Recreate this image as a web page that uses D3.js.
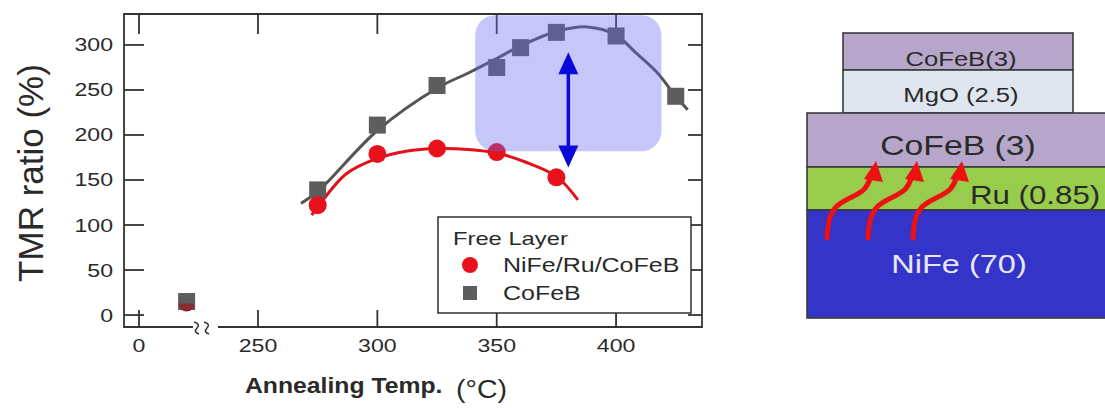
<!DOCTYPE html>
<html><head><meta charset="utf-8">
<script src="https://cdn.jsdelivr.net/npm/d3@7"></script>
<style>body{margin:0;background:#fff}svg{display:block}text{font-family:"Liberation Sans",Arial,sans-serif}</style>
</head><body>
<svg id="c" width="1105" height="408"></svg>
<script>
// ---- data ----
const rtTemp = 20;
const cofebTemps = [rtTemp, 275, 300, 325, 350, 360, 375, 400, 425];
const cofebTMR   = [15, 139, 211, 255, 275, 297, 314, 310, 243];
const nifeTemps  = [rtTemp, 275, 300, 325, 350, 375];
const nifeTMR    = [11, 122, 179, 185, 181, 153];
const cofebFitT  = [268, 275, 300, 325, 339, 350, 360, 375, 388, 400, 408, 417, 425, 430];
const cofebFitV  = [124, 137, 205, 252, 270, 285, 299, 315, 320, 311, 292, 270, 243, 228];
const nifeFitT   = [272.5, 275, 287, 300, 312, 325, 338, 350, 362, 375, 384];
const nifeFitV   = [111, 120, 157, 174, 182, 185, 184, 180, 170, 154, 128];
const xTicks = [0, 250, 300, 350, 400];
const yTicks = [0, 50, 100, 150, 200, 250, 300];
const legendTitle = "Free Layer";
const seriesNames = ["NiFe/Ru/CoFeB", "CoFeB"];
const highlightT = [341, 419];      // shaded region (temperature)
const highlightV = [182, 333];      // shaded region (TMR)
const arrowT = 380, arrowV = [292, 164];
const layerNames = ["CoFeB(3)", "MgO (2.5)", "CoFeB (3)", "Ru (0.85)", "NiFe (70)"];

// ---- scales ----
const svg = d3.select("#c");
const x = d3.scaleLinear().domain([0, 50, 250, 436]).range([139, 258, 258, 702]);
const y = d3.scaleLinear().domain([-13.3, 334.4]).range([327, 14]);
const L = 124, R = 702, T = 14, B = 327;
const SX = 1.25;
const ink = "#2a2a2a";

function txt(g, px, py, s, o) {
  o = o || {};
  return g.append("text")
    .attr("transform", `translate(${px},${py}) scale(${o.sx || SX},1)`)
    .attr("text-anchor", o.anchor || "start")
    .attr("font-size", o.fs || 18)
    .attr("font-weight", o.fw || "normal")
    .attr("fill", o.fill || ink)
    .text(s);
}

const g = svg.append("g");

// frame
const brk0 = 193, brk1 = 218;
g.append("path").attr("fill", "none").attr("stroke", "#333").attr("stroke-width", 1.8)
  .attr("d", `M${brk0},${B}H${L}V${T}H${R}V${B}H${brk1}`);

// ticks
const tk = g.append("g").attr("stroke", "#333").attr("stroke-width", 1.8);
yTicks.forEach(v => {
  tk.append("line").attr("x1", L).attr("x2", L + 20).attr("y1", y(v)).attr("y2", y(v));
  tk.append("line").attr("x1", R - 14).attr("x2", R).attr("y1", y(v)).attr("y2", y(v));
  txt(g, 113, y(v) + 6.5, String(v), {anchor: "end", fs: 18.5});
});
xTicks.forEach(v => {
  tk.append("line").attr("x1", x(v)).attr("x2", x(v)).attr("y1", B).attr("y2", B - 17);
  tk.append("line").attr("x1", x(v)).attr("x2", x(v)).attr("y1", T).attr("y2", T + 20);
  txt(g, x(v), 352, String(v), {anchor: "middle", fs: 18.5});
});
// axis break marks
[197, 207].forEach(bx => {
  g.append("path").attr("fill", "none").attr("stroke", "#333").attr("stroke-width", 1.6)
    .attr("d", `M${bx - 3},${B - 5} Q${bx + 4},${B - 3} ${bx},${B + 1} T${bx + 2},${B + 7}`);
});

// axis titles
g.append("text").attr("transform", `translate(43,173) rotate(-90)`)
  .attr("text-anchor", "middle").attr("font-size", 35).attr("fill", ink).text("TMR ratio (%)");
txt(g, 245, 393, "Annealing Temp.", {fs: 22.5, fw: "bold", sx: 1.1});
txt(g, 456, 398, "(°C)", {fs: 26, sx: 1.1});

// fit curves
const line = d3.line().x(d => x(d[0])).y(d => y(d[1])).curve(d3.curveCatmullRom);
g.append("path").attr("d", line(cofebFitT.map((t, i) => [t, cofebFitV[i]])))
  .attr("fill", "none").attr("stroke", "#555").attr("stroke-width", 3);
g.append("path").attr("d", line(nifeFitT.map((t, i) => [t, nifeFitV[i]])))
  .attr("fill", "none").attr("stroke", "#e3101a").attr("stroke-width", 3);

// points
const sq = 17;
cofebTemps.forEach((t, i) => {
  g.append("rect").attr("x", x(t) - sq / 2).attr("y", y(cofebTMR[i]) - sq / 2)
    .attr("width", sq).attr("height", sq).attr("fill", "#5d5d5d");
});
nifeTemps.forEach((t, i) => {
  if (i === 0) return; // hidden behind the square at RT
  g.append("circle").attr("cx", x(t)).attr("cy", y(nifeTMR[i])).attr("r", 9).attr("fill", "#e8121c");
});
// RT point: red circle partly under square
g.append("path").attr("fill", "#8a2a35")
  .attr("d", `M${x(rtTemp) - 8},${y(cofebTMR[0]) + 2} A8,8 0 0 0 ${x(rtTemp) + 8},${y(cofebTMR[0]) + 2} Z`);

// highlight box
g.append("rect").attr("x", x(highlightT[0])).attr("y", y(highlightV[1]))
  .attr("width", x(highlightT[1]) - x(highlightT[0])).attr("height", y(highlightV[0]) - y(highlightV[1]))
  .attr("rx", 20).attr("fill", "rgb(100,100,240)").attr("fill-opacity", 0.37);

// double arrow
const ax = x(arrowT), ay0 = y(arrowV[0]), ay1 = y(arrowV[1]);
g.append("line").attr("x1", ax).attr("x2", ax).attr("y1", ay0 + 15).attr("y2", ay1 - 15)
  .attr("stroke", "#0a0ad8").attr("stroke-width", 3.5);
g.append("path").attr("fill", "#0a0ad8")
  .attr("d", `M${ax},${ay0} L${ax - 10},${ay0 + 22} L${ax + 10},${ay0 + 22} Z M${ax},${ay1} L${ax - 10},${ay1 - 22} L${ax + 10},${ay1 - 22} Z`);

// legend
const lg = g.append("g");
lg.append("rect").attr("x", 438).attr("y", 217).attr("width", 253).attr("height", 96)
  .attr("fill", "#fff").attr("stroke", "#222").attr("stroke-width", 1.4);
txt(lg, 453, 245, legendTitle, {fs: 19});
lg.append("circle").attr("cx", 470).attr("cy", 265).attr("r", 8).attr("fill", "#e8121c");
txt(lg, 503, 272, seriesNames[0], {fs: 20});
lg.append("rect").attr("x", 463).attr("y", 286).attr("width", 14).attr("height", 14).attr("fill", "#5d5d5d");
txt(lg, 503, 300, seriesNames[1], {fs: 20});

// ---- stack diagram ----
const d = svg.append("g");
const layers = [
  {x0: 843, x1: 1073, y0: 33, y1: 70, fill: "#b6a6ca"},
  {x0: 843, x1: 1073, y0: 70, y1: 113, fill: "#dfe6f0"},
  {x0: 807, x1: 1112, y0: 113, y1: 167, fill: "#b6a6ca"},
  {x0: 807, x1: 1112, y0: 167, y1: 210, fill: "#98cc4c"},
  {x0: 807, x1: 1112, y0: 210, y1: 318, fill: "#3434c8"}
];
layers.forEach(l => {
  d.append("rect").attr("x", l.x0).attr("y", l.y0).attr("width", l.x1 - l.x0).attr("height", l.y1 - l.y0)
    .attr("fill", l.fill).attr("stroke", "#3a3a3a").attr("stroke-width", 1.6);
});
txt(d, 961, 66, layerNames[0], {anchor: "middle", fs: 20.5});
txt(d, 961, 102, layerNames[1], {anchor: "middle", fs: 20.5});
txt(d, 958, 155, layerNames[2], {anchor: "middle", fs: 27});
txt(d, 970, 204, layerNames[3], {fs: 25});
txt(d, 959, 273, layerNames[4], {anchor: "middle", fs: 26, fill: "#e8e8fa"});

// red curved arrows
const arrowLine = d3.line().curve(d3.curveBasis);
[0, 41, 86].forEach(dx => {
  const pts = [[827, 238], [828, 221], [835, 205], [852, 197], [866, 190], [871, 176]].map(p => [p[0] + dx, p[1]]);
  d.append("path").attr("d", arrowLine(pts)).attr("fill", "none")
    .attr("stroke", "#ee1111").attr("stroke-width", 5).attr("stroke-linecap", "round");
  const tx = 876 + dx, ty = 161;
  d.append("path").attr("fill", "#ee1111")
    .attr("d", `M${tx},${ty} L${tx - 12},${ty + 18} L${tx + 7},${ty + 21} Z`);
});
</script>
</body></html>
